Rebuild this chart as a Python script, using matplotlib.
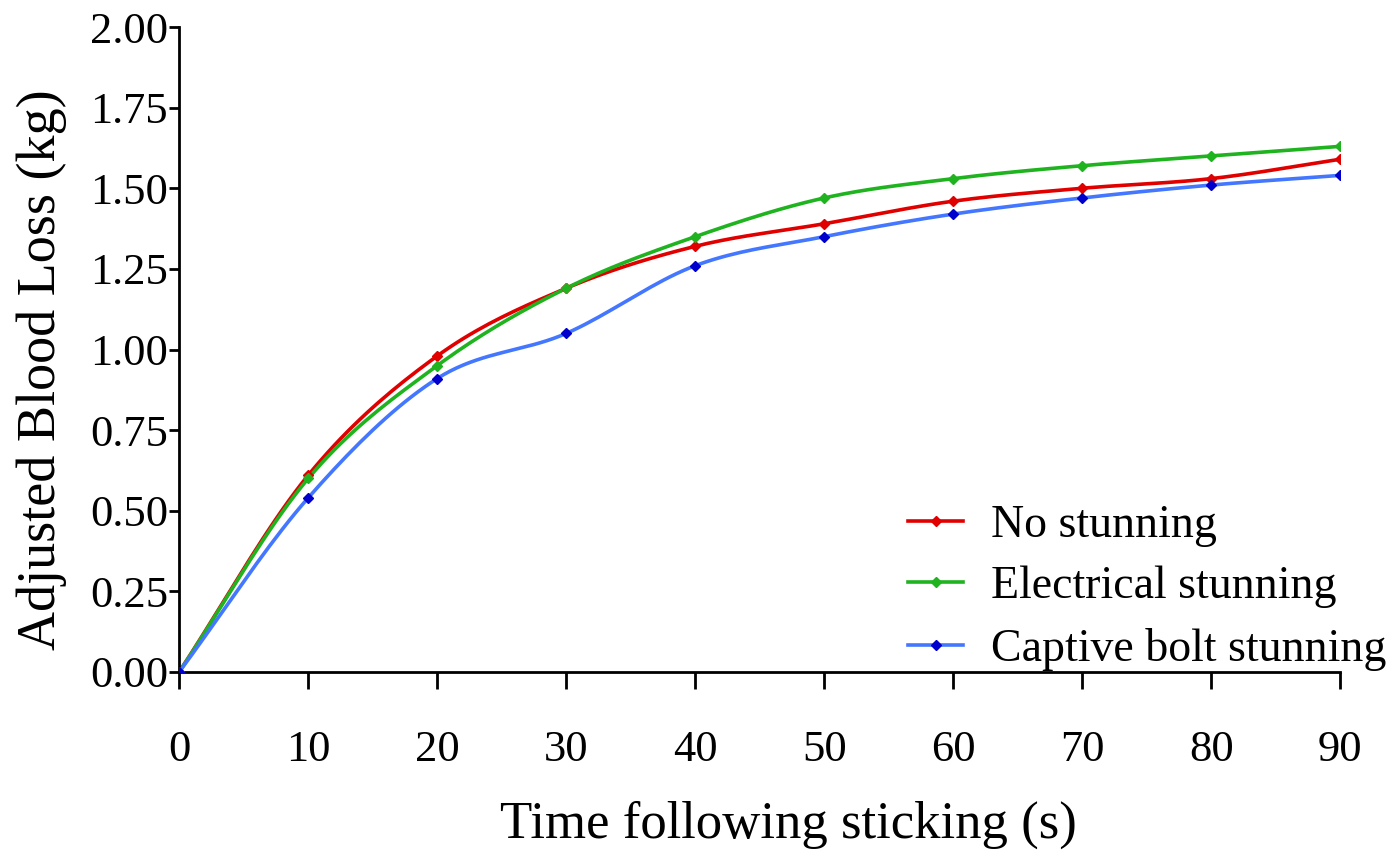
import matplotlib
matplotlib.use("Agg")
import matplotlib.pyplot as plt
import numpy as np

plt.rcParams['font.family'] = ['Liberation Serif', 'DejaVu Serif']

time_s = [0, 10, 20, 30, 40, 50, 60, 70, 80, 90]
no_stunning = [0.0, 0.61, 0.98, 1.19, 1.32, 1.39, 1.46, 1.50, 1.53, 1.59]
electrical = [0.0, 0.60, 0.95, 1.19, 1.35, 1.47, 1.53, 1.57, 1.60, 1.63]
captive_bolt = [0.0, 0.54, 0.91, 1.05, 1.26, 1.35, 1.42, 1.47, 1.51, 1.54]

series = [
    ("No stunning", no_stunning, "#e00000", "#e00000"),
    ("Electrical stunning", electrical, "#1fb31f", "#1fb31f"),
    ("Captive bolt stunning", captive_bolt, "#4477ff", "#0000cc"),
]


def smooth(x, y, n=20):
    # catmull-rom curve through the points, only for drawing the line
    x = np.asarray(x, float)
    y = np.asarray(y, float)
    px = np.concatenate([[2 * x[0] - x[1]], x, [2 * x[-1] - x[-2]]])
    py = np.concatenate([[2 * y[0] - y[1]], y, [2 * y[-1] - y[-2]]])
    xs, ys = [], []
    t = np.linspace(0, 1, n, endpoint=False)
    for i in range(1, len(px) - 2):
        for p, out in ((px, xs), (py, ys)):
            p0, p1, p2, p3 = p[i - 1], p[i], p[i + 1], p[i + 2]
            out.extend(0.5 * ((2 * p1) + (-p0 + p2) * t
                              + (2 * p0 - 5 * p1 + 4 * p2 - p3) * t ** 2
                              + (-p0 + 3 * p1 - 3 * p2 + p3) * t ** 3))
    xs.append(x[-1])
    ys.append(y[-1])
    return np.array(xs), np.array(ys)


fig = plt.figure(figsize=(13.89, 8.58), dpi=100)
ax = fig.add_axes([0.129, 0.2168, 0.836, 0.7517])

for label, vals, lc, mc in series:
    sx, sy = smooth(time_s, vals)
    ax.plot(sx, sy, color=lc, lw=2.6, zorder=2)
    ax.plot(time_s, vals, linestyle='none', marker='D', ms=5.5,
            color=mc, zorder=3)
    ax.plot([], [], color=lc, lw=2.6, marker='D', ms=5.5, mfc=mc, mec=mc,
            label=label)

ax.set_xlim(0, 90)
ax.set_ylim(0, 2.0)
ax.set_xticks(time_s)
ax.set_yticks(np.arange(0, 2.01, 0.25))
ax.set_yticklabels(["%.2f" % v for v in np.arange(0, 2.01, 0.25)])
for s in ['top', 'right']:
    ax.spines[s].set_visible(False)
for s in ['left', 'bottom']:
    ax.spines[s].set_linewidth(2)
ax.tick_params(axis='x', length=12, width=2, pad=30, labelsize=32)
ax.tick_params(axis='y', length=7, width=2, pad=1, labelsize=32)

ax.set_xlabel("Time following sticking (s)", fontsize=38, labelpad=24)
ax.set_ylabel("Adjusted Blood Loss (kg)", fontsize=39, labelpad=6)
ax.xaxis.set_label_coords(0.525, -0.2)
ax.yaxis.set_label_coords(-0.097, 0.468)

ax.legend(loc='lower right', bbox_to_anchor=(1.075, -0.062), frameon=False,
          fontsize=33, handlelength=1.2, handletextpad=0.6, labelspacing=0.42)

fig.savefig("out.png", dpi=100)
